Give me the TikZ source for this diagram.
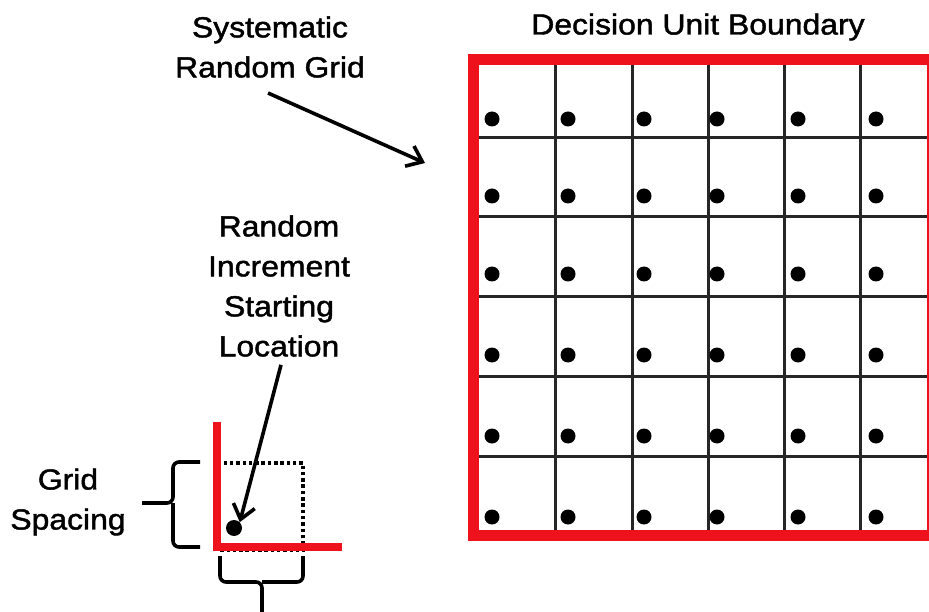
\documentclass[tikz,border=0pt]{standalone}
\usepackage{fontspec}
\setmainfont{Liberation Sans}[FakeStretch=1.1,FakeBold=1.5]
\usetikzlibrary{arrows.meta}
\definecolor{bred}{RGB}{238,18,28}
\tikzset{
  lbl/.style={align=center,inner sep=0pt,font=\fontsize{29}{40}\selectfont},
  gridline/.style={line width=3pt,black!85},
  boundary/.style={line width=11pt,bred,line join=miter},
  pointer/.style={line width=3.6pt,-{Straight Barb[length=14pt,width=22pt,line width=3.6pt]}},
  bracepath/.style={line width=3.6pt,rounded corners=6pt},
  sample/.style={fill=black}
}
\begin{document}
\begin{tikzpicture}[x=1pt,y=-1pt]
\useasboundingbox (0,0) rectangle (929,612);
\fill[white] (0,0) rectangle (929,612);
\clip (0,0) rectangle (929,612);

% labels
\node[lbl] (title) at (698,27) {Decision Unit Boundary};
\node[lbl] (sys) at (270,47) {Systematic\\Random Grid};
\node[lbl] (ris) at (279,286) {Random\\Increment\\Starting\\Location};
\node[lbl] (gs) at (68,502) {Grid\\Spacing};

% grid inside the decision unit
\foreach \x in {555,632,708,784,860}
  \draw[gridline] (\x,60) -- (\x,535);
\foreach \y in {138,217,297,376,456}
  \draw[gridline] (473,\y) -- (932,\y);
\draw[boundary] (473,60) rectangle (932,535);

% sample points, one per cell
\foreach \y in {119,196,274,355,436,517}
  \foreach \x in {492,568,644,717,798,876}
    \fill[sample] (\x,\y) circle (7.5pt);

% inset: one grid cell with its random start
\draw[line width=3.5pt,dash pattern=on 3.5pt off 2.8pt] (219,463) rectangle (303,550);
\draw[line width=8.5pt,bred,line join=miter] (217,422) -- (217,547) -- (342,547);
\node[circle,sample,minimum size=16pt,inner sep=0pt] (start) at (234,528) {};

% braces
\draw[bracepath] (200,462) -| (173,503) -- (142,503);
\draw[bracepath] (200,547) -| (173,503);
\draw[bracepath] (220,556) |- (262,582) -- (262,620);
\draw[bracepath] (303,556) |- (262,582);

% pointers
\coordinate (gridtip) at (425,163);
\draw[pointer] (268,93) -- (gridtip);
\draw[pointer] (ris.south) ++(2,8) -- (start.north east);
\end{tikzpicture}
\end{document}
